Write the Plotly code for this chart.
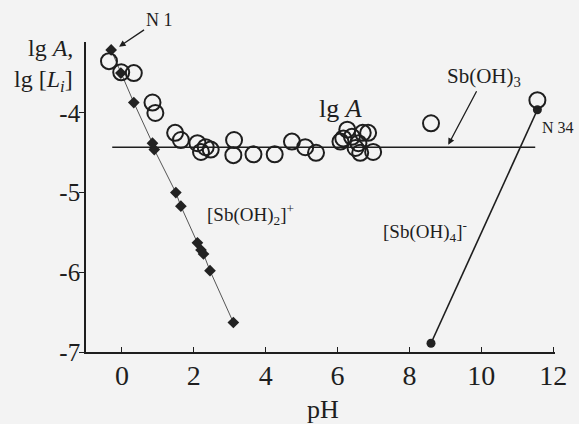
import plotly.graph_objects as go

# lg A (open circles)
circ_ph = [-0.36, -0.02, 0.33, 0.85, 0.93, 1.48, 1.64, 2.10, 2.20, 2.33, 2.47, 3.12, 3.10, 3.66, 4.25,
           4.73, 5.10, 5.40, 6.08, 6.16, 6.27, 6.40, 6.50, 6.58, 6.63, 6.70, 6.85, 6.99, 8.60, 11.56]
circ_lg = [-3.35, -3.49, -3.50, -3.87, -4.00, -4.25, -4.34, -4.38, -4.49, -4.43, -4.46, -4.34, -4.53, -4.52, -4.52,
           -4.36, -4.43, -4.50, -4.36, -4.32, -4.21, -4.30, -4.44, -4.38, -4.50, -4.25, -4.25, -4.49, -4.13, -3.84]

# [Sb(OH)2]+ (filled diamonds)
dia_ph = [-0.30, -0.03, 0.33, 0.85, 0.90, 1.50, 1.64, 2.10, 2.20, 2.27, 2.45, 3.10]
dia_lg = [-3.21, -3.50, -3.87, -4.38, -4.46, -5.00, -5.17, -5.63, -5.72, -5.77, -5.98, -6.63]

# [Sb(OH)4]- (filled dots)
neg_ph = [8.60, 11.56]
neg_lg = [-6.89, -3.96]

# Sb(OH)3 level
lvl_ph = [-0.27, 11.50]
lvl_lg = [-4.43, -4.43]

x_ticks = [0, 2, 4, 6, 8, 10, 12]
x_labels = ["0", "2", "4", "6", "8", "10", "12"]
y_ticks = [-7, -6, -5, -4]
y_labels = ["-7", "-6", "-5", "-4"]

ink = "#1e1e1e"
serif = "Liberation Serif"

fig = go.Figure()
fig.add_trace(go.Scatter(x=lvl_ph, y=lvl_lg, mode="lines", line=dict(color=ink, width=1.6), showlegend=False))
fig.add_trace(go.Scatter(x=dia_ph, y=dia_lg, mode="lines+markers", line=dict(color="#555555", width=1),
                         marker=dict(symbol="diamond", size=9, color="#222222"), showlegend=False))
fig.add_trace(go.Scatter(x=neg_ph, y=neg_lg, mode="lines+markers", line=dict(color=ink, width=1.6),
                         marker=dict(symbol="circle", size=9, color="#222222"), showlegend=False))
fig.add_trace(go.Scatter(x=circ_ph, y=circ_lg, mode="markers",
                         marker=dict(symbol="circle-open", size=16, color=ink, line=dict(width=2, color=ink)),
                         showlegend=False))

ann = [
    dict(x=-0.08, y=-3.17, xref="x", yref="y", text="N 1", showarrow=True, arrowhead=2, arrowsize=1,
         arrowwidth=1.3, arrowcolor=ink, ax=40, ay=-27, font=dict(size=18)),
    dict(x=9.08, y=-4.40, xref="x", yref="y", text="Sb(OH)<sub>3</sub>", showarrow=True, arrowhead=2,
         arrowsize=1, arrowwidth=1.3, arrowcolor=ink, ax=36, ay=-68, font=dict(size=21)),
    dict(x=11.62, y=-4.18, xref="x", yref="y", text="N 34", showarrow=False, xanchor="left", font=dict(size=16)),
    dict(x=6.07, y=-3.94, xref="x", yref="y", text="lg <i>A</i>", showarrow=False, font=dict(size=26)),
    dict(x=2.32, y=-5.28, xref="x", yref="y", text="[Sb(OH)<sub>2</sub>]<sup>+</sup>", showarrow=False,
         xanchor="left", font=dict(size=19)),
    dict(x=7.22, y=-5.49, xref="x", yref="y", text="[Sb(OH)<sub>4</sub>]<sup>-</sup>", showarrow=False,
         xanchor="left", font=dict(size=19)),
    dict(x=5.60, y=-0.187, xref="x", yref="paper", text="pH", showarrow=False, yanchor="middle",
         font=dict(size=26)),
    dict(x=-0.023, y=0.98, xref="paper", yref="paper", text="lg <i>A</i>,", showarrow=False,
         xanchor="right", yanchor="middle", font=dict(size=24)),
    dict(x=-0.023, y=0.875, xref="paper", yref="paper", text="lg [<i>L</i><sub><i>i</i></sub>]", showarrow=False,
         xanchor="right", yanchor="middle", font=dict(size=24)),
]

fig.update_layout(
    width=579, height=424,
    margin=dict(l=86, r=14, t=42, b=72),
    paper_bgcolor="#f3f3f3", plot_bgcolor="#f3f3f3",
    font=dict(family=serif, color=ink),
    annotations=ann,
    xaxis=dict(range=[-1, 12.05], tickvals=x_ticks, ticktext=x_labels, ticks="inside", ticklen=5,
               tickcolor=ink, tickwidth=1.3, ticklabelstandoff=-2,
               showline=True, linecolor=ink, linewidth=1.6, showgrid=False, zeroline=False,
               tickfont=dict(size=28)),
    yaxis=dict(range=[-7, -3.11], tickvals=y_ticks, ticktext=y_labels, ticks="outside", ticklen=5,
               tickcolor=ink, tickwidth=1.3, ticklabelstandoff=-6,
               showline=True, linecolor=ink, linewidth=1.6, showgrid=False, zeroline=False,
               tickfont=dict(size=25)),
)

fig.write_html("out.html")
